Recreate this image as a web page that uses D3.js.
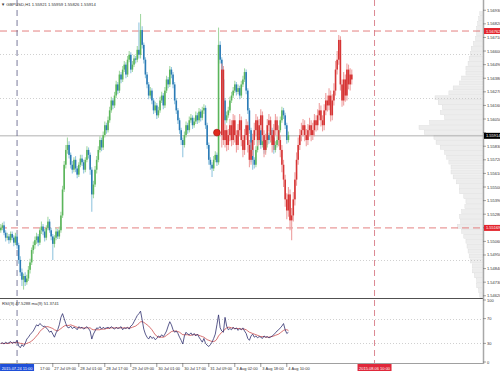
<!DOCTYPE html>
<html><head><meta charset="utf-8">
<script src="https://cdn.jsdelivr.net/npm/d3@7"></script>
<style>body{margin:0;background:#fff}svg{display:block}text{font-family:"Liberation Sans",Arial,sans-serif}</style>
</head><body><svg id="c" width="500" height="372"></svg>
<script>
// ---------- DATA ----------
const symbolTitle = "GBPUSD,H1  1.55921 1.55959 1.55826 1.55914";
const rsiTitle = "RSI(9) 47.5288   ma(9) 51.3741";

const barClose=[1.5517,1.5519,1.5513,1.5509,1.5510,1.5507,1.5512,1.5509,1.5505,1.5510,1.5503,
1.5491,1.5481,1.5475,1.5478,1.5473,1.5476,1.5483,1.5489,1.5499,1.5503,
1.5507,1.5510,1.5505,1.5515,1.5518,1.5514,1.5509,1.5517,1.5522,1.5515,1.5510,1.5504,1.5509,1.5514,1.5510,
1.5515,1.5527,1.5548,1.5568,1.5580,
1.5584,1.5576,1.5568,1.5564,1.5572,1.5565,1.5560,1.5568,1.5573,1.5570,1.5564,1.5572,1.5580,1.5576,1.5564,
1.5544,1.5552,1.5564,1.5572,1.5580,1.5588,1.5582,1.5592,1.5600,1.5596,
1.5604,1.5612,1.5620,1.5616,1.5624,1.5633,1.5628,1.5641,1.5637,1.5645,
1.5649,1.5641,1.5653,1.5657,1.5645,1.5649,1.5654,1.5653,1.5661,1.5657,
1.5677,1.5665,1.5653,1.5641,1.5633,1.5624,1.5628,1.5620,1.5612,1.5616,
1.5608,1.5612,1.5620,1.5624,1.5616,1.5628,1.5637,1.5633,1.5645,1.5641,
1.5633,1.5620,1.5612,1.5604,1.5596,1.5588,1.5584,
1.5592,1.5600,1.5596,1.5604,1.5606,1.5600,1.5603,1.5608,1.5604,1.5611,1.5606,1.5612,1.5614,
1.5600,1.5584,1.5572,1.5568,1.5565,1.5572,1.5576,1.5570,1.5665,
1.5653,1.5637,1.5620,1.5604,1.5608,1.5612,
1.5620,1.5624,1.5628,1.5633,1.5627,1.5630,1.5624,1.5633,1.5637,1.5643,
1.5628,1.5612,1.5596,1.5580,1.5572,1.5568,1.5580,1.5588,1.5596,1.5584,
1.5588,1.5580,1.5584,1.5592,1.5588,1.5596,1.5590,1.5580,1.5584,1.5588,
1.5596,1.5604,1.5612,1.5608,1.5600,1.5588,1.5592];
const barOpen=[1.5515,1.5517,1.5519,1.5513,1.5509,1.5510,1.5507,1.5512,1.5509,1.5505,1.5510,
1.5503,1.5491,1.5481,1.5475,1.5478,1.5473,1.5476,1.5483,1.5489,1.5499,
1.5503,1.5507,1.5510,1.5505,1.5515,1.5518,1.5514,1.5509,1.5517,1.5522,1.5515,1.5510,1.5504,1.5509,1.5514,
1.5510,1.5515,1.5527,1.5548,1.5568,
1.5580,1.5584,1.5576,1.5568,1.5564,1.5572,1.5565,1.5560,1.5568,1.5573,1.5570,1.5564,1.5572,1.5580,1.5576,
1.5564,1.5544,1.5552,1.5564,1.5572,1.5580,1.5588,1.5582,1.5592,1.5600,
1.5596,1.5604,1.5612,1.5620,1.5616,1.5624,1.5633,1.5628,1.5641,1.5637,
1.5645,1.5649,1.5641,1.5653,1.5657,1.5645,1.5649,1.5654,1.5653,1.5661,
1.5657,1.5677,1.5665,1.5653,1.5641,1.5633,1.5624,1.5628,1.5620,1.5612,
1.5616,1.5608,1.5612,1.5620,1.5624,1.5616,1.5628,1.5637,1.5633,1.5645,
1.5641,1.5633,1.5620,1.5612,1.5604,1.5596,1.5588,
1.5584,1.5592,1.5600,1.5596,1.5604,1.5606,1.5600,1.5603,1.5608,1.5604,1.5611,1.5606,1.5612,
1.5614,1.5600,1.5584,1.5572,1.5568,1.5565,1.5572,1.5576,1.5570,
1.5665,1.5653,1.5637,1.5620,1.5604,1.5608,
1.5612,1.5620,1.5624,1.5628,1.5633,1.5627,1.5630,1.5624,1.5633,1.5637,
1.5643,1.5628,1.5612,1.5596,1.5580,1.5572,1.5568,1.5580,1.5588,1.5596,
1.5584,1.5588,1.5580,1.5584,1.5592,1.5588,1.5596,1.5590,1.5580,1.5584,
1.5588,1.5596,1.5604,1.5612,1.5608,1.5600,1.5588];
const barHigh=[1.5520,1.5521,1.5522,1.5515,1.5513,1.5512,1.5514,1.5514,1.5511,1.5513,1.5512,
1.5505,1.5494,1.5484,1.5480,1.5481,1.5479,1.5486,1.5492,1.5501,1.5506,
1.5510,1.5513,1.5512,1.5517,1.5522,1.5520,1.5516,1.5519,1.5526,1.5524,1.5517,1.5512,1.5511,1.5517,1.5516,
1.5518,1.5530,1.5551,1.5571,1.5584,
1.5590,1.5587,1.5578,1.5571,1.5574,1.5575,1.5567,1.5570,1.5576,1.5576,1.5572,1.5574,1.5583,1.5582,1.5578,
1.5566,1.5555,1.5567,1.5575,1.5583,1.5591,1.5590,1.5595,1.5603,1.5602,
1.5607,1.5615,1.5623,1.5622,1.5627,1.5636,1.5635,1.5644,1.5643,1.5648,
1.5652,1.5651,1.5656,1.5660,1.5659,1.5652,1.5657,1.5656,1.5664,1.5683,
1.5690,1.5680,1.5667,1.5655,1.5643,1.5635,1.5631,1.5630,1.5622,1.5619,
1.5618,1.5615,1.5623,1.5627,1.5626,1.5631,1.5640,1.5639,1.5648,1.5647,
1.5643,1.5635,1.5622,1.5614,1.5606,1.5598,1.5590,
1.5595,1.5603,1.5602,1.5607,1.5609,1.5608,1.5606,1.5611,1.5610,1.5614,1.5613,1.5615,1.5617,
1.5616,1.5602,1.5586,1.5574,1.5570,1.5575,1.5579,1.5578,1.5679,
1.5668,1.5655,1.5639,1.5622,1.5611,1.5615,
1.5623,1.5627,1.5631,1.5636,1.5635,1.5633,1.5632,1.5636,1.5640,1.5646,
1.5645,1.5630,1.5614,1.5598,1.5582,1.5574,1.5583,1.5591,1.5599,1.5598,
1.5591,1.5590,1.5587,1.5595,1.5594,1.5599,1.5598,1.5592,1.5587,1.5591,
1.5599,1.5607,1.5615,1.5614,1.5610,1.5602,1.5595];
const barLow=[1.5513,1.5515,1.5511,1.5506,1.5507,1.5504,1.5505,1.5507,1.5502,1.5503,1.5500,
1.5488,1.5478,1.5470,1.5467,1.5470,1.5471,1.5474,1.5480,1.5487,1.5496,
1.5500,1.5504,1.5502,1.5503,1.5512,1.5511,1.5506,1.5507,1.5515,1.5513,1.5507,1.5491,1.5501,1.5507,1.5508,
1.5508,1.5513,1.5525,1.5546,1.5565,
1.5577,1.5573,1.5565,1.5561,1.5562,1.5562,1.5557,1.5558,1.5566,1.5567,1.5561,1.5562,1.5570,1.5573,1.5560,
1.5530,1.5541,1.5550,1.5561,1.5570,1.5578,1.5579,1.5580,1.5590,1.5593,
1.5594,1.5602,1.5610,1.5613,1.5614,1.5622,1.5625,1.5626,1.5634,1.5635,
1.5643,1.5638,1.5639,1.5651,1.5642,1.5643,1.5647,1.5650,1.5651,1.5654,
1.5654,1.5662,1.5650,1.5638,1.5630,1.5621,1.5622,1.5617,1.5609,1.5610,
1.5605,1.5606,1.5610,1.5618,1.5613,1.5614,1.5626,1.5630,1.5631,1.5638,
1.5630,1.5617,1.5609,1.5601,1.5593,1.5584,1.5574,
1.5582,1.5590,1.5593,1.5594,1.5602,1.5597,1.5598,1.5601,1.5601,1.5602,1.5603,1.5604,1.5609,
1.5597,1.5581,1.5568,1.5564,1.5558,1.5563,1.5570,1.5567,1.5568,
1.5650,1.5634,1.5617,1.5601,1.5602,1.5606,
1.5610,1.5618,1.5622,1.5626,1.5624,1.5625,1.5621,1.5622,1.5631,1.5635,
1.5625,1.5609,1.5593,1.5570,1.5564,1.5565,1.5566,1.5578,1.5586,1.5581,
1.5582,1.5577,1.5578,1.5582,1.5585,1.5586,1.5587,1.5577,1.5578,1.5582,
1.5586,1.5594,1.5602,1.5605,1.5597,1.5585,1.5586];

// projected (red) bars, starting at bar index projStart
const projStart = 136;
const projClose=[1.5645,1.5588,1.5596,1.5584,1.5592,
1.5600,1.5588,1.5604,1.5592,1.5584,1.5596,1.5604,1.5588,1.5580,1.5592,1.5600,1.5584,1.5572,1.5580,1.5588,
1.5596,1.5604,1.5588,1.5600,1.5608,1.5592,1.5580,1.5588,1.5600,1.5604,1.5592,1.5584,1.5596,1.5604,1.5596,
1.5588,1.5580,1.5568,1.5556,1.5540,1.5531,1.5544,1.5523,1.5527,1.5540,
1.5556,1.5572,1.5584,1.5592,1.5596,1.5600,1.5592,1.5588,1.5596,1.5600,
1.5592,1.5596,1.5604,1.5600,1.5608,1.5612,1.5604,1.5600,1.5612,1.5620,
1.5616,1.5624,1.5608,1.5620,1.5628,1.5645,1.5653,1.5669,1.5633,1.5620,
1.5637,1.5624,1.5645,1.5633,1.5641,1.5637];
const projOpen=[1.5592,1.5645,1.5588,1.5596,1.5584,
1.5592,1.5600,1.5588,1.5604,1.5592,1.5584,1.5596,1.5604,1.5588,1.5580,1.5592,1.5600,1.5584,1.5572,1.5580,
1.5588,1.5596,1.5604,1.5588,1.5600,1.5608,1.5592,1.5580,1.5588,1.5600,1.5604,1.5592,1.5584,1.5596,1.5604,
1.5596,1.5588,1.5580,1.5568,1.5556,1.5540,1.5531,1.5544,1.5523,1.5527,
1.5540,1.5556,1.5572,1.5584,1.5592,1.5596,1.5600,1.5592,1.5588,1.5596,
1.5600,1.5592,1.5596,1.5604,1.5600,1.5608,1.5612,1.5604,1.5600,1.5612,
1.5620,1.5616,1.5624,1.5608,1.5620,1.5628,1.5645,1.5653,1.5669,1.5633,
1.5620,1.5637,1.5624,1.5645,1.5633,1.5641];
const projHigh=[1.5650,1.5648,1.5601,1.5600,1.5597,1.5605,1.5604,1.5609,1.5608,1.5596,
1.5601,1.5609,1.5607,1.5592,1.5597,1.5605,1.5603,1.5588,1.5586,1.5593,
1.5602,1.5609,1.5607,1.5605,1.5613,1.5611,1.5596,1.5593,1.5605,1.5609,
1.5607,1.5596,1.5601,1.5609,1.5607,1.5600,1.5592,1.5584,1.5572,1.5560,
1.5545,1.5550,1.5548,1.5533,1.5546,1.5562,1.5578,1.5590,1.5597,1.5602,
1.5605,1.5604,1.5597,1.5601,1.5606,1.5604,1.5602,1.5609,1.5608,1.5613,
1.5618,1.5616,1.5608,1.5617,1.5626,1.5624,1.5630,1.5628,1.5625,1.5634,
1.5652,1.5660,1.5673,1.5672,1.5637,1.5643,1.5641,1.5650,1.5649,1.5646,1.5645];
const projLow=[1.5582,1.5584,1.5582,1.5579,1.5580,1.5587,1.5583,1.5584,1.5586,1.5578,
1.5580,1.5591,1.5583,1.5574,1.5576,1.5588,1.5578,1.5566,1.5568,1.5575,
1.5584,1.5592,1.5583,1.5584,1.5596,1.5587,1.5574,1.5576,1.5584,1.5595,
1.5587,1.5578,1.5580,1.5592,1.5591,1.5583,1.5574,1.5562,1.5550,1.5534,
1.5524,1.5526,1.5515,1.5507,1.5522,1.5535,1.5551,1.5568,1.5580,1.5587,
1.5591,1.5587,1.5583,1.5584,1.5591,1.5587,1.5588,1.5591,1.5595,1.5596,
1.5604,1.5599,1.5595,1.5596,1.5608,1.5611,1.5612,1.5603,1.5604,1.5616,
1.5624,1.5641,1.5649,1.5628,1.5615,1.5616,1.5619,1.5620,1.5629,1.5628,1.5633];

// RSI(9) and its MA(9), one value per real bar
const rsiValues=[30,31,29,32,30,31,33,30,32,31,35, 26,23,28,25,30, 37,40,44,47,50,
55,60,58,62,60,57,58,55,52,48,50,45,40,47,52, 60,72,78,70,62,
56,55,58,54,56,55,52,57,55,56,53,55,57,54,50, 37, 45,50,55,54,57,53,56,54,55,
56,54,57,55,53,56,54,55,57,52, 55,54,56,53,58,60,65,70,75,78, 82,
68,53,45,40,37,42,38,40,36, 38,42,40,44,41,45,50,58,65,60, 52,48,50,46,40,35,29,
42,48,45,44,47,43,46,42,45,40,36,32,38, 30,27,25,28,32,38,45, 60,76,
55,50,48,72,58,52, 54,52,56,53,55,51,54,52,55,50, 46,38,35,42,45,40,42,39,41,40,
38,42,40,41,39,40,42,44,47,50, 52,55,58,62,52,46,48];
const rsiMaValues=[30,30,30,30,30,30,31,31,31,31,32, 31,30,30,29,29, 30,31,32,34,36,
39,42,45,49,52,54,56,57,57,56,55,54,52,51,50, 52,54,56,58,59,
59,59,60,59,58,57,56,55,55,55,55,55,55,55,55, 53, 52,52,52,52,52,53,53,53,54,
54,55,55,55,55,55,55,55,55,55, 55,55,55,55,55,56,57,58,60,62, 65,
65,64,62,60,58,55,52,48,44, 42,40,40,40,40,41,43,45,47,49, 50,50,50,49,48,46,44,
44,44,44,43,43,44,44,44,44,43,42,41,40, 38,36,35,34,33,33,34, 37,42,
45,48,50,53,55,56, 56,55,55,54,54,54,54,53,53,53, 52,50,48,47,46,45,44,43,42,41,
41,41,40,40,40,41,41,42,43,44, 45,47,49,51,52,52,51];

// volume profile at price levels
const profileLevels=[1.5690,1.5686,1.5682,1.5678,1.5674,1.5670,1.5666,1.5662,1.5658,1.5654,
1.5650,1.5646,1.5642,1.5638,1.5634,1.5630,1.5626,1.5622,1.5618,1.5614,
1.5610,1.5606,1.5602,1.5598,1.5594,1.5590,1.5586,1.5582,1.5578,1.5574,
1.5570,1.5566,1.5562,1.5558,1.5554,1.5550,1.5546,1.5542,1.5538,1.5534,
1.5530,1.5526,1.5522,1.5518,1.5514,1.5510,1.5506,1.5502,1.5498,1.5494,
1.5490,1.5486,1.5482,1.5478,1.5474,1.5470,1.5466,1.5462];
const profileVolumes=[3,4,5,6,6,7,9,11,12,13, 14,16,16,20,22,28,32,45,42,38,
40,36,50,60,55,46,44,40,36,34, 32,30,30,28,25,22,22,18,16,17,
20,22,21,24,20,18,16,15,14,13, 12,10,10,8,6,6,4,3];

const priceTicks=[1.56930,1.56820,1.56710,1.56600,1.56490,1.56380,1.56270,1.56160,1.56050,1.55940,1.55830,
1.55720,1.55610,1.55500,1.55390,1.55280,1.55170,1.55060,1.54950,1.54840,1.54730,1.54620];
const rsiTicks=[100,70,30,0];
const rsiLevels=[70,30];
const timeTickBars=[16,32,48,64,80,96,112,128,144,160,176];
const timeTickLabels=["24 Jul 17:00","27 Jul 09:00","28 Jul 01:00","28 Jul 17:00","29 Jul 09:00","30 Jul 01:00",
"30 Jul 17:00","31 Jul 09:00","3 Aug 02:00","3 Aug 18:00","4 Aug 10:00"];
const gridLevels=[1.5658,1.5622,1.5491];
const redLevels=[1.56762,1.55169];
const bidPrice=1.55914;
const markerBar=133, markerPrice=1.5594;
const startLine={bar:10,label:"2015.07.24 11:00"};
const endLine={bar:230,label:"2015.08.06 10:00"};

// ---------- CHART ----------
const svg=d3.select("#c");
const AX=483;
const x=d3.scaleLinear().domain([0,297]).range([0.8,483.4]);
const y=d3.scaleLinear().domain([1.54602,1.57013]).range([298,0]);
const yR=d3.scaleLinear().domain([0,100]).range([362,300]);
const wScale=d3.scaleLinear().domain([0,60]).range([0,64]);

// volume profile
svg.append("g").selectAll("rect").data(profileLevels).join("rect")
 .attr("x",(d,i)=>AX-wScale(profileVolumes[i])).attr("width",(d,i)=>wScale(profileVolumes[i]))
 .attr("y",d=>y(d)-2.2).attr("height",4)
 .attr("fill","#ededed").attr("stroke","#dadada").attr("stroke-width",0.4);

// grid dotted
svg.append("g").selectAll("line").data(gridLevels).join("line")
 .attr("x1",0).attr("x2",AX).attr("y1",d=>Math.round(y(d))+0.5).attr("y2",d=>Math.round(y(d))+0.5)
 .attr("stroke","#c4c4c4").attr("stroke-dasharray","1,2").attr("stroke-width",0.8);
svg.append("g").selectAll("line").data(rsiLevels).join("line")
 .attr("x1",0).attr("x2",AX).attr("y1",d=>Math.round(yR(d))+0.5).attr("y2",d=>Math.round(yR(d))+0.5)
 .attr("stroke","#c4c4c4").attr("stroke-dasharray","1,2").attr("stroke-width",0.8);

// bid line
svg.append("line").attr("x1",0).attr("x2",AX).attr("y1",y(bidPrice)).attr("y2",y(bidPrice))
 .attr("stroke","#a8a8a8").attr("stroke-width",0.9);

// red dashed levels
svg.append("g").selectAll("line").data(redLevels).join("line")
 .attr("x1",0).attr("x2",AX).attr("y1",d=>y(d)).attr("y2",d=>y(d))
 .attr("stroke","#e07272").attr("stroke-width",0.9).attr("stroke-dasharray","7,4");

// vertical lines
svg.append("line").attr("x1",x(startLine.bar)).attr("x2",x(startLine.bar)).attr("y1",0).attr("y2",363)
 .attr("stroke","#6a6a90").attr("stroke-width",0.9).attr("stroke-dasharray","6,4");
svg.append("line").attr("x1",x(endLine.bar)).attr("x2",x(endLine.bar)).attr("y1",0).attr("y2",363)
 .attr("stroke","#d87a86").attr("stroke-width",0.9).attr("stroke-dasharray","6,4");

function drawBars(start,O,Hh,L,C,col){
  const g=svg.append("g");
  const idx=d3.range(C.length);
  g.selectAll("line").data(idx).join("line")
   .attr("x1",i=>x(start+i)).attr("x2",i=>x(start+i))
   .attr("y1",i=>y(Hh[i])).attr("y2",i=>y(L[i]))
   .attr("stroke",i=>col(i).w).attr("stroke-width",1.1);
  g.selectAll("rect").data(idx).join("rect")
   .attr("x",i=>x(start+i)-0.8).attr("width",1.6)
   .attr("y",i=>y(Math.max(O[i],C[i])))
   .attr("height",i=>Math.max(0.8,Math.abs(y(O[i])-y(C[i]))))
   .attr("fill",i=>col(i).b);
}
drawBars(0,barOpen,barHigh,barLow,barClose,
  i=>barClose[i]>=barOpen[i]?{w:"#a3d8a3",b:"#5bb55b"}:{w:"#94c6e0",b:"#2c7bb6"});
drawBars(projStart,projOpen,projHigh,projLow,projClose,i=>({w:"#eea0a0",b:"#d63535"}));

// marker
svg.append("circle").attr("cx",x(markerBar)).attr("cy",y(markerPrice)).attr("r",3.4)
 .attr("fill","#e02a1c").attr("stroke","#a01010").attr("stroke-width",0.6);

// RSI lines
const line=d3.line().x((d,i)=>x(i)).y(d=>yR(d));
svg.append("path").datum(rsiMaValues).attr("d",line).attr("fill","none").attr("stroke","#cc4b4b").attr("stroke-width",0.8);
svg.append("path").datum(rsiValues).attr("d",line).attr("fill","none").attr("stroke","#30306e").attr("stroke-width",0.8);

// frames
svg.append("line").attr("x1",0).attr("x2",AX+1).attr("y1",298.5).attr("y2",298.5).attr("stroke","#505050").attr("stroke-width",1);
svg.append("line").attr("x1",0).attr("x2",AX+1).attr("y1",363.5).attr("y2",363.5).attr("stroke","#a0a0a0").attr("stroke-width",1);
svg.append("line").attr("x1",AX+0.5).attr("x2",AX+0.5).attr("y1",0).attr("y2",364).attr("stroke","#a8a8a8").attr("stroke-width",1.5);

const FS=4;
// price axis (labels hidden where a price tag covers them)
const tagPrices=redLevels.concat([bidPrice]);
const visibleTicks=priceTicks.filter(v=>tagPrices.every(t=>Math.abs(y(t)-y(v))>5.5));
const pa=svg.append("g");
pa.selectAll("line").data(priceTicks).join("line").attr("x1",AX).attr("x2",AX+3)
 .attr("y1",d=>y(d)).attr("y2",d=>y(d)).attr("stroke","#666").attr("stroke-width",0.6);
pa.selectAll("text").data(visibleTicks).join("text").attr("x",AX+4).attr("y",d=>y(d)+1.5)
 .attr("font-size",FS).attr("fill","#333").text(d=>d.toFixed(5));

function priceTag(v,bg){
  svg.append("rect").attr("x",AX+1).attr("y",y(v)-3).attr("width",17).attr("height",6).attr("fill",bg);
  svg.append("text").attr("x",AX+3).attr("y",y(v)+1.5).attr("font-size",FS).attr("fill","#fff").text(v.toFixed(5));
}
redLevels.forEach(v=>priceTag(v,"#e3262e"));
priceTag(bidPrice,"#000");

// rsi axis
const ra=svg.append("g");
ra.selectAll("line").data(rsiTicks).join("line").attr("x1",AX).attr("x2",AX+3)
 .attr("y1",d=>yR(d)).attr("y2",d=>yR(d)).attr("stroke","#666").attr("stroke-width",0.6);
ra.selectAll("text").data(rsiTicks).join("text").attr("x",AX+4).attr("y",d=>yR(d)+1.5)
 .attr("font-size",FS).attr("fill","#333").text(d=>d);

// time axis
const tagHalf=17;
const ta=svg.append("g");
ta.selectAll("line").data(timeTickBars).join("line").attr("x1",d=>x(d)).attr("x2",d=>x(d))
 .attr("y1",363).attr("y2",367).attr("stroke","#555").attr("stroke-width",0.6);
timeTickBars.forEach((b,i)=>{
  const t=ta.append("text").attr("x",x(b)+1.5).attr("y",369.5).attr("font-size",FS).attr("fill","#333").text(timeTickLabels[i]);
  const left=x(b)+1.5, tagRight=x(startLine.bar)+tagHalf;
  if(left<tagRight){
    // the date part of this label is covered by the start-line tag: show the visible time part only
    const full=t.node().getComputedTextLength();
    const part=timeTickLabels[i].split(" ").pop();
    t.text(part).attr("x",left+full).attr("text-anchor","end");
  }
});

function timeTag(o,bg){
  const cx=x(o.bar);
  svg.append("rect").attr("x",cx-tagHalf).attr("y",364).attr("width",tagHalf*2).attr("height",7).attr("fill",bg);
  svg.append("text").attr("x",cx).attr("y",369.5).attr("text-anchor","middle").attr("font-size",FS).attr("fill","#fff").text(o.label);
}
timeTag(startLine,"#1f4fd8");
timeTag(endLine,"#e0283a");

// titles
svg.append("text").attr("x",1).attr("y",5.5).attr("font-size",4.2).attr("fill","#333").text("\u25BC "+symbolTitle);
svg.append("text").attr("x",2).attr("y",304.5).attr("font-size",4.2).attr("fill","#333").text(rsiTitle);
</script></body></html>
